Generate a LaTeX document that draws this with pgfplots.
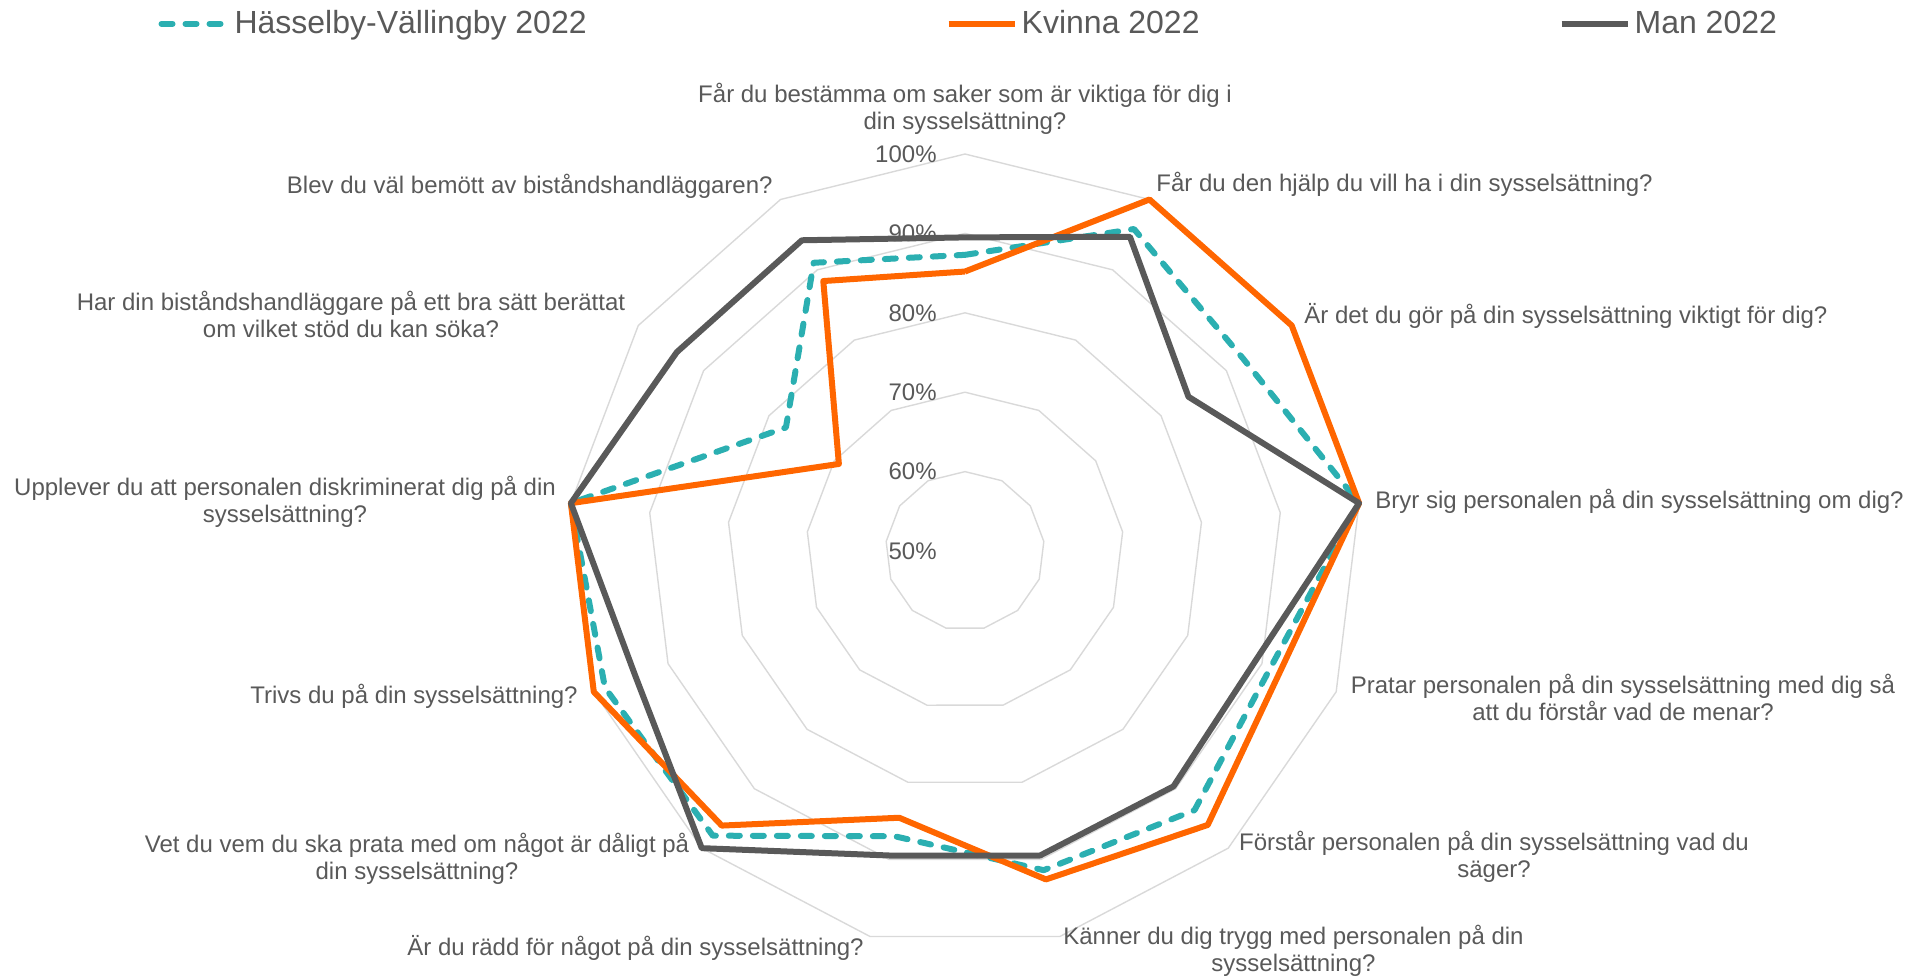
\documentclass[border=0pt]{standalone}
\usepackage{fontspec}
\setmainfont{Liberation Sans}
\usepackage{pgfplots}
\usepackage{pgfplotstable}
\pgfplotsset{compat=1.18}
\usepgfplotslibrary{polar}
\definecolor{tealc}{RGB}{43,175,177}
\definecolor{orng}{RGB}{255,102,0}
\definecolor{dgray}{RGB}{89,89,89}
\definecolor{txt}{RGB}{89,89,89}
\definecolor{gridc}{RGB}{217,217,217}

% k = category index (0 = top, clockwise), v = percent
\pgfplotstableread{
k v
0 87.3
1 95.8
2 92.6
3 100
4 91.2
5 93.6
6 91.4
7 87.0
8 97.9
9 98.5
10 100
11 77.4
12 91.0
13 87.3
}\hasselby
\pgfplotstableread{
k v
0 85.2
1 100
2 100
3 100
4 92.5
5 96.1
6 92.6
7 84.6
8 96.2
9 100
10 100
11 69.3
12 88.4
13 85.2
}\kvinna
\pgfplotstableread{
k v
0 89.5
1 94.7
2 84.2
3 100
4 89.1
5 89.6
6 89.5
7 89.5
8 100
9 94.4
10 100
11 94.1
12 94.2
13 89.5
}\man

\begin{document}
\begin{tikzpicture}
\path[use as bounding box] (0,0) rectangle (954pt,-488pt);
\begin{polaraxis}[
  at={(482.5pt,-275.5pt)}, anchor=center,
  scale only axis, width=397pt, height=397pt,
  hide axis, clip=false,
  xmin=0, xmax=360, ymin=0, ymax=50,
  x filter/.expression={90-x*360/13},
  y filter/.expression={y-50},
  legend columns=3,
  legend cell align=left,
  legend style={draw=none, fill=none, at={(0.506,1.164)}, anchor=center,
    font=\fontsize{16}{19}\selectfont, text=txt,
    /tikz/every even column/.append style={column sep=177.5pt}},
  legend image code/.code={\draw[#1] (0pt,0pt) -- (33pt,0pt);},
]
\pgfplotsinvokeforeach{60,70,80,90,100}{
  \addplot[gridc, line width=0.7pt, forget plot] coordinates {(0,#1)(1,#1)(2,#1)(3,#1)(4,#1)(5,#1)(6,#1)(7,#1)(8,#1)(9,#1)(10,#1)(11,#1)(12,#1)(13,#1)};
}
\addplot[tealc, line width=3pt, dash pattern=on 5.5pt off 6.5pt, line cap=round, line join=round] table[x=k,y=v] {\hasselby};
\addlegendentry{Hässelby-Vällingby 2022}
\addplot[orng, line width=3pt, line join=round] table[x=k,y=v] {\kvinna};
\addlegendentry{Kvinna 2022}
\addplot[dgray, line width=3pt, line join=round] table[x=k,y=v] {\man};
\addlegendentry{Man 2022}
\end{polaraxis}
\begin{scope}[x=0.5pt,y=-0.5pt, every node/.style={text=txt, font=\fontsize{12}{13.5}\selectfont, inner sep=0pt, align=center}]
\foreach \v/\y in {50/551,60/471.6,70/392.2,80/312.8,90/233.4,100/154}{
  \node[anchor=east] at (937,\y) {\v\%};
}
\node at (965,108.5) {Får du bestämma om saker som är viktiga för dig i\\din sysselsättning?};
\node[anchor=west] at (1156,184) {Får du den hjälp du vill ha i din sysselsättning?};
\node[anchor=west] at (1304,316) {Är det du gör på din sysselsättning viktigt för dig?};
\node[anchor=west] at (1375,501) {Bryr sig personalen på din sysselsättning om dig?};
\node at (1623,697.5) {Pratar personalen på din sysselsättning med dig så\\att du förstår vad de menar?};
\node at (1494,857) {Förstår personalen på din sysselsättning vad du\\säger?};
\node at (1293.5,951) {Känner du dig trygg med personalen på din\\sysselsättning?};
\node at (635.5,948) {Är du rädd för något på din sysselsättning?};
\node at (417,858.5) {Vet du vem du ska prata med om något är dåligt på\\din sysselsättning?};
\node[anchor=east] at (578,696) {Trivs du på din sysselsättning?};
\node at (285,501.5) {Upplever du att personalen diskriminerat dig på din\\sysselsättning?};
\node at (351,314) {Har din biståndshandläggare på ett bra sätt berättat\\om vilket stöd du kan söka?};
\node[anchor=east] at (773,186) {Blev du väl bemött av biståndshandläggaren?};
\end{scope}
\end{tikzpicture}
\end{document}
